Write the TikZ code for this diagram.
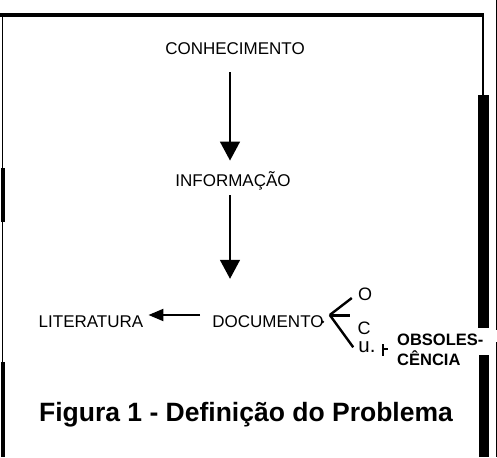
\documentclass[tikz,border=0pt]{standalone}
\usepackage{fontspec}
\setmainfont{Liberation Sans}
\usetikzlibrary{arrows.meta}

\tikzset{
  lbl/.style={inner sep=0pt, font=\fontsize{17}{20}\selectfont},
  letter/.style={inner sep=0pt, font=\fontsize{18}{21}\selectfont},
  boldlbl/.style={inner sep=0pt, anchor=west, font=\fontsize{16.5}{19}\selectfont\bfseries},
  bigarrow/.style={line width=1.6pt, -{Triangle[width=20pt,length=19pt]}},
  smallarrow/.style={line width=2.2pt, -{Triangle[width=12pt,length=15pt]}},
  prong/.style={line width=2.4pt}
}

\begin{document}
\begin{tikzpicture}[x=1pt,y=-1pt]
    \useasboundingbox (0,0) rectangle (497,457);

    % draw the frame
    \draw[line width=3.5pt] (0,15) -- (484,15);
    \draw[line width=2pt] (483,15) -- (483,96);
    \fill (478,95) rectangle (489,328);
    \fill (479,355) rectangle (489,457);
    \draw[line width=1pt] (496,0) -- (496,330);
    \draw[line width=1pt] (496,342) -- (496,457);
    \draw[line width=1.5pt] (2.5,15) -- (2.5,457);
    \fill (1,168) rectangle (4.5,222);
    \fill (1,362) rectangle (4.5,457);

    % the chain of terms
    \node[lbl] (con) at (235,49) {CONHECIMENTO};
    \node[lbl] (inf) at (233,181) {INFORMAÇÃO};
    \node[lbl] (doc) at (268,322) {DOCUMENTO};
    \node[lbl] (lit) at (91,322) {LITERATURA};

    \draw[bigarrow] ([xshift=-5pt,yshift=-17pt]con.south) -- ([xshift=-3pt,yshift=11pt]inf.north);
    \draw[bigarrow] ([xshift=-3pt,yshift=-5pt]inf.south) -- ([xshift=-38pt,yshift=37pt]doc.north);
    \draw[smallarrow] ([xshift=-12pt,yshift=7pt]doc.west) -- ([xshift=5pt,yshift=7pt]lit.east);

    % the three branches
    \fill ([xshift=-1pt,yshift=-6pt]doc.north east) circle (1.5pt);
    \coordinate (br) at ([xshift=6pt,yshift=7pt]doc.east);
    \node[letter] (o) at (365,294) {O};
    \node[letter] (c) at (364,328) {C};
    \node[inner sep=0pt, font=\fontsize{20.5}{24}\selectfont] (u) at (367,347) {u.};
    \draw[prong] (br) -- ([xshift=-6pt,yshift=-4pt]o.west);
    \draw[prong, line width=3pt] (br) -- (350,315);
    \draw[prong] (br) -- ([xshift=-5pt,yshift=-6pt]u.north west);

    \draw[line width=1.5pt] (383,344) -- (383,356);
    \draw[line width=1.2pt] (383,349) -- (388,349);
    \node[boldlbl] (obs) at (397,340) {OBSOLES-};
    \node[boldlbl] (cen) at (397,358) {CÊNCIA};

    % caption
    \node[inner sep=0pt, font=\fontsize{26.5}{30}\selectfont\bfseries] (cap) at (246,415) {Figura 1 - Definição do Problema};
\end{tikzpicture}
\end{document}
